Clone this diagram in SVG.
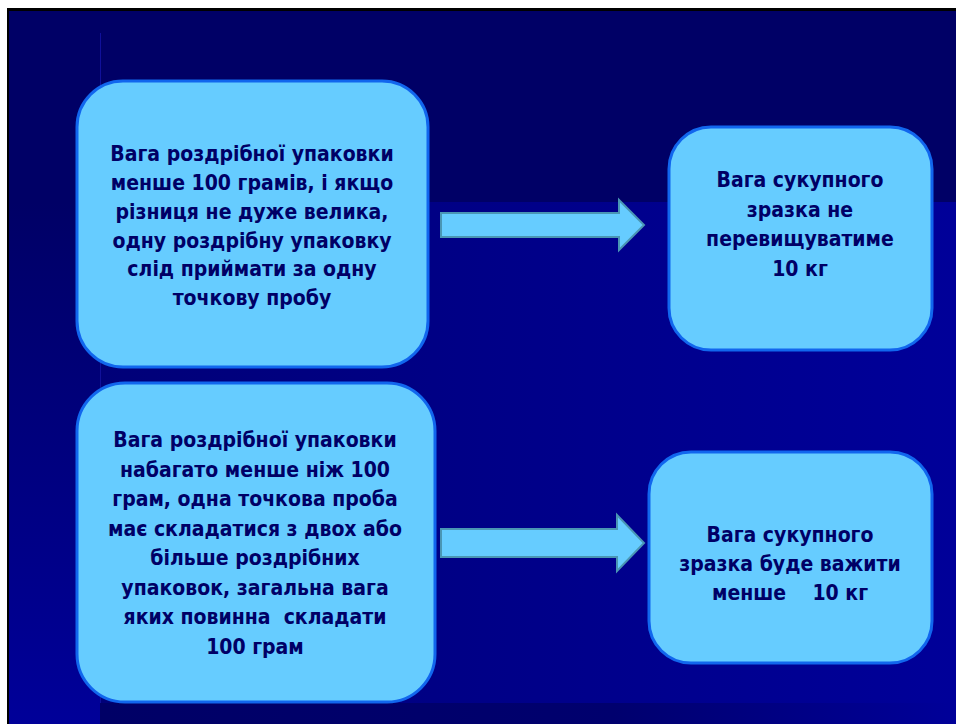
<svg xmlns="http://www.w3.org/2000/svg" width="956" height="724" viewBox="0 0 956 724">
  <defs>
    <linearGradient id="gMain" x1="0" y1="0" x2="1" y2="0">
      <stop offset="0" stop-color="#000078"/>
      <stop offset="0.6" stop-color="#00008C"/>
      <stop offset="1" stop-color="#000099"/>
    </linearGradient>
    <linearGradient id="gLeft" x1="0" y1="0" x2="0" y2="1">
      <stop offset="0" stop-color="#000066"/>
      <stop offset="1" stop-color="#000099"/>
    </linearGradient>
    <linearGradient id="gBottom" x1="0" y1="0" x2="1" y2="0">
      <stop offset="0" stop-color="#000066"/>
      <stop offset="0.6" stop-color="#00006E"/>
      <stop offset="1" stop-color="#000099"/>
    </linearGradient>
    <linearGradient id="gLine" x1="0" y1="0" x2="1" y2="0">
      <stop offset="0" stop-color="#1E3CC8"/>
      <stop offset="0.8" stop-color="#2A5AF0"/>
      <stop offset="1" stop-color="#5A7AE0"/>
    </linearGradient>
  </defs>
  <style>
    .box { fill: #66CCFF; stroke: #1166EE; stroke-width: 3; }
    .arrow { fill: #66CCFF; stroke: #4A96B4; stroke-width: 2; stroke-linejoin: miter; }
    .t { font-family: "DejaVu Sans Condensed", "DejaVu Sans", sans-serif; font-weight: bold; font-size: 21px; fill: #000066; text-anchor: middle; white-space: pre; }
  </style>

  <g id="background">
    <rect x="0" y="0" width="956" height="724" fill="#FFFFFF"/>
    <rect x="7" y="8" width="949" height="716" fill="#000000"/>
    <rect x="9" y="11" width="947" height="713" fill="#000066"/>
    <rect x="9" y="202" width="91" height="522" fill="url(#gLeft)"/>
    <rect x="100" y="202" width="856" height="501" fill="url(#gMain)"/>
    <rect x="100" y="703" width="856" height="21" fill="url(#gBottom)"/>
    <line x1="100.5" y1="33" x2="100.5" y2="703" stroke="#10109A" stroke-width="1"/>
    <line x1="9" y1="202" x2="77" y2="202" stroke="url(#gLine)" stroke-width="2"/>
  </g>

  <g id="connectors">
    <polygon class="arrow" points="441,213 619,213 619,200 644,225 619,250 619,237 441,237"/>
    <polygon class="arrow" points="441,529 617,529 617,515 644,543 617,571 617,557 441,557"/>
  </g>

  <g id="node1">
    <rect class="box" x="77" y="81" width="351" height="286" rx="46" ry="46"/>
    <text class="t" x="252" y="161">Вага роздрібної упаковки</text>
    <text class="t" x="252" y="190">менше 100 грамів, і якщо</text>
    <text class="t" x="252" y="219">різниця не дуже велика,</text>
    <text class="t" x="252" y="248">одну роздрібну упаковку</text>
    <text class="t" x="252" y="276">слід приймати за одну</text>
    <text class="t" x="252" y="305">точкову пробу</text>
  </g>

  <g id="node2">
    <rect class="box" x="77" y="383" width="358" height="319" rx="48" ry="48"/>
    <text class="t" x="255" y="447">Вага роздрібної упаковки</text>
    <text class="t" x="255" y="477">набагато менше ніж 100</text>
    <text class="t" x="255" y="506">грам, одна точкова проба</text>
    <text class="t" x="255" y="536">має складатися з двох або</text>
    <text class="t" x="255" y="565">більше роздрібних</text>
    <text class="t" x="255" y="595">упаковок, загальна вага</text>
    <text class="t" x="255" y="624">яких повинна  складати</text>
    <text class="t" x="255" y="654">100 грам</text>
  </g>

  <g id="node3">
    <rect class="box" x="669" y="127" width="263" height="223" rx="42" ry="42"/>
    <text class="t" x="800" y="187">Вага сукупного</text>
    <text class="t" x="800" y="217">зразка не</text>
    <text class="t" x="800" y="246">перевищуватиме</text>
    <text class="t" x="800" y="276">10 кг</text>
  </g>

  <g id="node4">
    <rect class="box" x="649" y="452" width="283" height="211" rx="42" ry="42"/>
    <text class="t" x="790" y="542">Вага сукупного</text>
    <text class="t" x="790" y="571">зразка буде важити</text>
    <text class="t" x="790" y="600">менше    10 кг</text>
  </g>
</svg>
